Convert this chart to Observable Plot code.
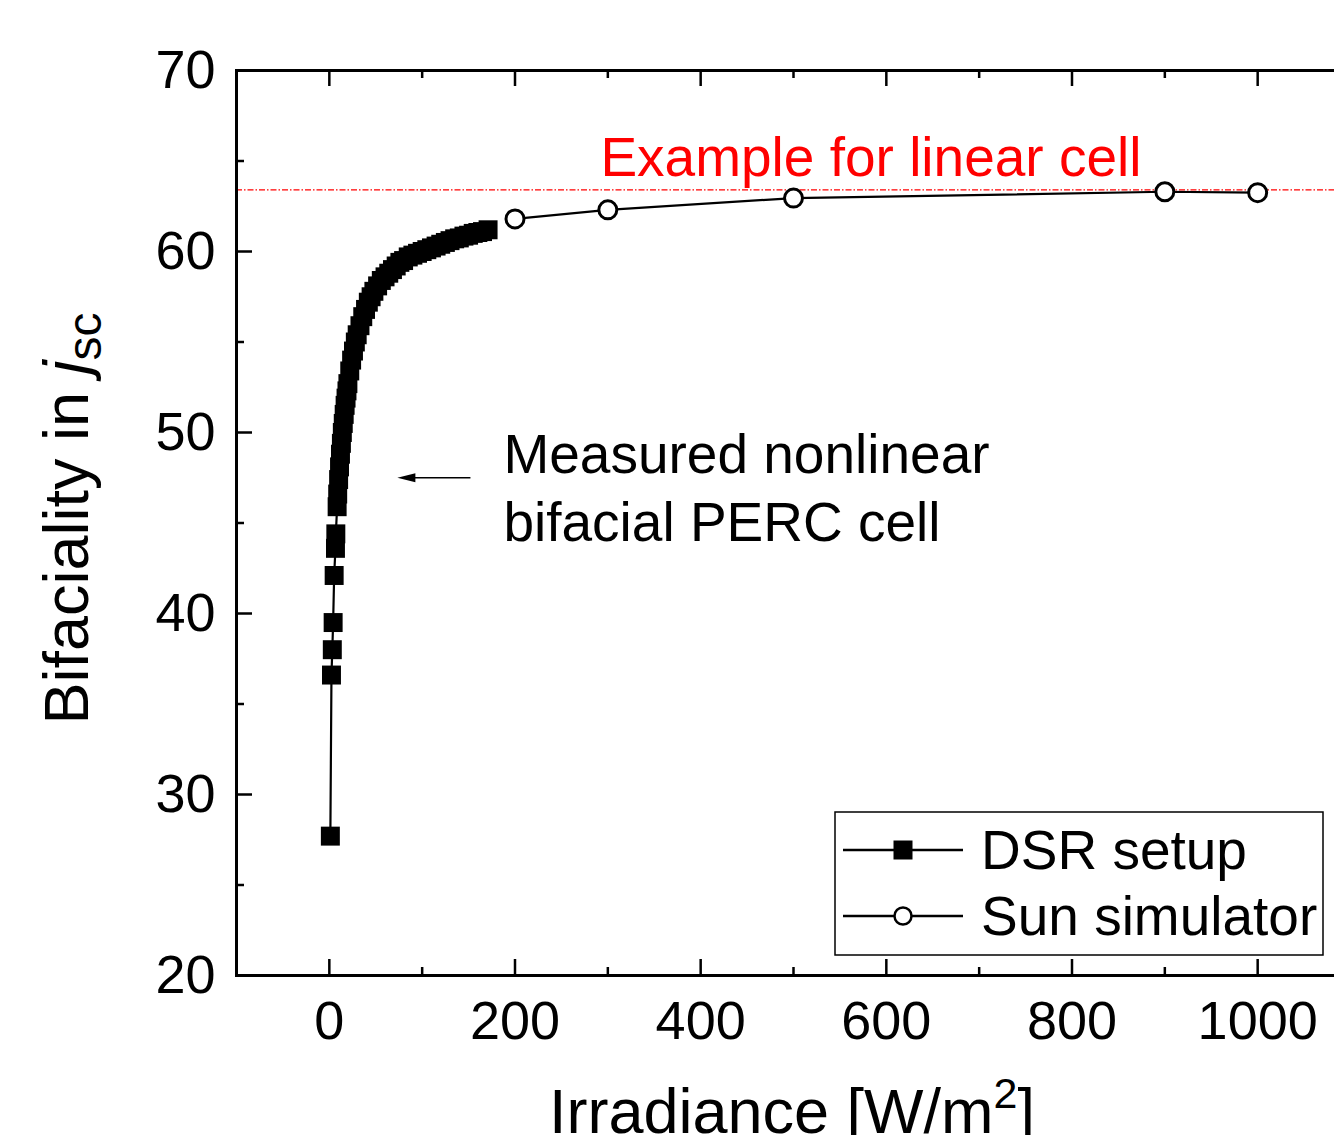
<!DOCTYPE html>
<html><head><meta charset="utf-8">
<script src="https://cdn.jsdelivr.net/npm/d3@7"></script>
<script src="https://cdn.jsdelivr.net/npm/@observablehq/plot@0.6"></script>
<style>
html,body{margin:0;padding:0;background:#fff;overflow:hidden;}
#chart{width:1334px;height:1135px;overflow:hidden;position:relative;}
#chart svg{max-width:none !important;width:1360px !important;height:1135px !important;}
</style></head><body><div id="chart"></div>
<script>
// ---- data ----
const seriesNames = ["DSR setup", "Sun simulator"];
const dsrIrradiance = [1.1, 2.3, 3.2, 4.1, 5.2, 6.6, 7.0, 8.4, 9, 10, 11, 12, 13, 14, 15, 16, 17, 18, 19, 20, 22, 24, 26, 28, 30, 33, 36, 39, 42, 45, 48, 52, 56, 60, 64, 68, 72, 76, 80, 85, 90, 95, 100, 105, 110, 115, 120, 125, 130, 135, 140, 145, 150, 155, 160, 165, 171];
const dsrBifaciality = [27.7, 36.6, 38.0, 39.5, 42.1, 43.6, 44.4, 45.9, 46.6, 47.4, 48.1, 48.8, 49.4, 50.0, 50.5, 51.0, 51.5, 51.9, 52.3, 52.7, 53.4, 54.0, 54.5, 55.0, 55.4, 55.9, 56.4, 56.8, 57.2, 57.5, 57.8, 58.1, 58.4, 58.6, 58.8, 59.0, 59.2, 59.4, 59.5, 59.7, 59.8, 59.9, 60.0, 60.1, 60.2, 60.3, 60.4, 60.5, 60.6, 60.7, 60.75, 60.85, 60.9, 61.0, 61.05, 61.1, 61.2];
const sunIrradiance = [200, 300, 500, 900, 1000];
const sunBifaciality = [61.8, 62.3, 62.95, 63.3, 63.25];
const linearCellBifaciality = [63.4];
const xMajorTicks = [0, 200, 400, 600, 800, 1000];
const xMinorTicks = [100, 300, 500, 700, 900];
const yMajorTicks = [20, 30, 40, 50, 60, 70];
const yMinorTicks = [25, 35, 45, 55, 65];

const dsr = dsrIrradiance.map((x, i) => ({x, y: dsrBifaciality[i]}));
const sun = sunIrradiance.map((x, i) => ({x, y: sunBifaciality[i]}));

// ---- layout ----
const W = 1360, H = 1135;
const mL = 236, mR = 10, mT = 70, mB = 160;
const innerW = W - mL - mR, innerH = H - mT - mB;
const majorLen = 16, minorLen = 8;
const FONT = "'Liberation Sans', Arial, Helvetica, sans-serif";

const leftArrowHead = {draw(ctx) { ctx.moveTo(0, 0); ctx.lineTo(18, -4.5); ctx.lineTo(18, 4.5); ctx.closePath(); }};

const plot = Plot.plot({
  width: W, height: H,
  marginLeft: mL, marginRight: mR, marginTop: mT, marginBottom: mB,
  x: {domain: [-100, 1100]},
  y: {domain: [20, 70]},
  style: {fontFamily: FONT, color: "black", background: "white", overflow: "visible", maxWidth: "none"},
  marks: [
    Plot.ruleY(linearCellBifaciality, {y: d => d, stroke: "#ff0000", strokeWidth: 1.2, strokeDasharray: "6,2,1.5,2"}),
    Plot.line(sun, {x: "x", y: "y", stroke: "black", strokeWidth: 2.2}),
    Plot.line(dsr, {x: "x", y: "y", stroke: "black", strokeWidth: 2.2}),
    Plot.dot(dsr, {x: "x", y: "y", symbol: "square", r: 10.7, fill: "black", stroke: null}),
    Plot.dot(sun, {x: "x", y: "y", r: 9, fill: "white", stroke: "black", strokeWidth: 3}),
    // annotations
    Plot.text(["Example for linear cell"], {x: 292, y: 65.15, text: d => d, fill: "#ff0000", fontSize: 55, textAnchor: "start"}),
    Plot.text(["Measured nonlinear"], {x: 187.5, y: 48.76, text: d => d, fill: "black", fontSize: 55, textAnchor: "start"}),
    Plot.text(["bifacial PERC cell"], {x: 187.5, y: 45.0, text: d => d, fill: "black", fontSize: 55, textAnchor: "start"}),
    Plot.link([0], {x1: 152, x2: 90, y1: 47.5, y2: 47.5, stroke: "black", strokeWidth: 1.5}),
    Plot.dot([0], {x: 73.3, y: 47.5, symbol: leftArrowHead, fill: "black", stroke: null}),
    // inward ticks
    Plot.tickX(xMajorTicks, {x: d => d, insetTop: innerH - majorLen, strokeWidth: 2.5}),
    Plot.tickX(xMinorTicks, {x: d => d, insetTop: innerH - minorLen, strokeWidth: 2.5}),
    Plot.tickX(xMajorTicks, {x: d => d, insetBottom: innerH - majorLen, strokeWidth: 2.5}),
    Plot.tickX(xMinorTicks, {x: d => d, insetBottom: innerH - minorLen, strokeWidth: 2.5}),
    Plot.tickY(yMajorTicks, {y: d => d, insetRight: innerW - majorLen, strokeWidth: 2.5}),
    Plot.tickY(yMinorTicks, {y: d => d, insetRight: innerW - minorLen, strokeWidth: 2.5}),
    Plot.tickY(yMajorTicks, {y: d => d, insetLeft: innerW - majorLen, strokeWidth: 2.5}),
    Plot.tickY(yMinorTicks, {y: d => d, insetLeft: innerW - minorLen, strokeWidth: 2.5}),
    Plot.axisX(xMajorTicks, {tickSize: 0, tickPadding: 25, fontSize: 54, label: null, tickFormat: d => String(d)}),
    Plot.axisY(yMajorTicks, {tickSize: 0, tickPadding: 21, fontSize: 54, label: null, tickFormat: d => String(d)}),
    Plot.frame({stroke: "black", strokeWidth: 3})
  ]
});

document.getElementById("chart").appendChild(plot);

// ---- axis titles with sub/superscripts ----
const svg = d3.select(plot);
const xt = svg.append("text")
  .attr("x", mL + innerW / 2 - 1).attr("y", 1133)
  .attr("text-anchor", "middle").attr("font-size", 63).attr("font-family", FONT).attr("fill", "black");
xt.append("tspan").text("Irradiance [W/m");
xt.append("tspan").attr("font-size", 43).attr("dy", -25).text("2");
xt.append("tspan").attr("dy", 25).text("]");

const yt = svg.append("text")
  .attr("transform", `translate(88,${mT + innerH / 2 - 4}) rotate(-90)`)
  .attr("text-anchor", "middle").attr("font-size", 63).attr("font-family", FONT).attr("fill", "black");
yt.append("tspan").text("Bifaciality in ");
yt.append("tspan").attr("font-style", "italic").text("j");
yt.append("tspan").attr("font-size", 48).attr("dy", 13).text("sc");

// ---- legend ----
const lg = svg.append("g").attr("font-family", FONT).attr("text-anchor", "start");
lg.append("rect").attr("x", 835).attr("y", 812).attr("width", 488).attr("height", 143)
  .attr("fill", "white").attr("stroke", "black").attr("stroke-width", 1.5);
const rows = [{name: seriesNames[0], y: 850}, {name: seriesNames[1], y: 916}];
rows.forEach((r, i) => {
  lg.append("line").attr("x1", 843).attr("x2", 963).attr("y1", r.y).attr("y2", r.y).attr("stroke", "black").attr("stroke-width", 2.5);
  if (i === 0) lg.append("rect").attr("x", 903 - 9.5).attr("y", r.y - 9.5).attr("width", 19).attr("height", 19).attr("fill", "black");
  else lg.append("circle").attr("cx", 903).attr("cy", r.y).attr("r", 8.5).attr("fill", "white").attr("stroke", "black").attr("stroke-width", 2.5);
  lg.append("text").attr("x", 981).attr("y", r.y + 19).attr("font-size", 55).attr("text-anchor", "start").attr("fill", "black").text(r.name);
});
</script></body></html>
